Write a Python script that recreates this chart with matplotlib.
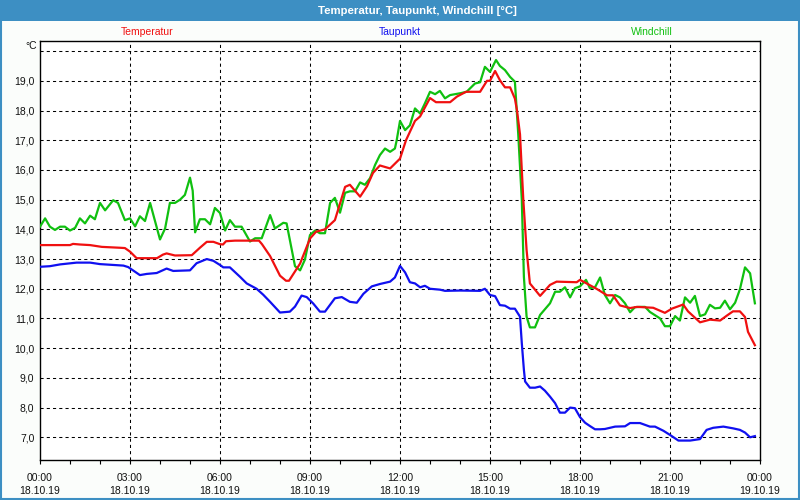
import matplotlib
matplotlib.use("Agg")
import matplotlib.pyplot as plt
from matplotlib.patches import Rectangle
from matplotlib.ticker import FixedLocator, FuncFormatter

# ---- data (hours since 18.10.19 00:00, °C) ----
temp_h = [0.0, 0.5, 1.0, 1.1, 1.33, 1.67, 2.06, 2.67, 2.83, 3.0, 3.22, 3.9, 4.1, 4.22, 4.5,
          5.06, 5.33, 5.56, 5.78, 6.0, 6.1, 6.2, 6.5, 7.3, 7.4, 7.67, 8.0, 8.2, 8.3, 8.67,
          9.0, 9.2, 9.5, 9.83, 10.17, 10.33, 10.67, 10.9, 11.1, 11.33, 11.67, 12.0, 12.2,
          12.5, 12.67, 13.0, 13.2, 13.67, 13.9, 14.2, 14.67, 14.9, 15.0, 15.17, 15.33, 15.5,
          15.67, 15.83, 15.9, 16.0, 16.11, 16.22, 16.33, 16.67, 17.0, 17.22, 17.89, 18.0,
          18.2, 18.55, 18.9, 19.1, 19.33, 19.67, 19.9, 20.44, 20.83, 21.06, 21.44, 21.6,
          22.0, 22.33, 22.67, 22.9, 23.1, 23.33, 23.5, 23.6, 23.83]
temp_v = [13.47, 13.47, 13.47, 13.51, 13.49, 13.47, 13.41, 13.38, 13.37, 13.25, 13.03, 13.03,
          13.15, 13.19, 13.12, 13.13, 13.38, 13.58, 13.58, 13.5, 13.49, 13.6, 13.62, 13.62,
          13.5, 13.1, 12.44, 12.27, 12.27, 12.85, 13.69, 13.92, 14.0, 14.31, 15.43, 15.5,
          15.1, 15.45, 15.9, 16.15, 16.05, 16.38, 17.0, 17.65, 17.8, 18.42, 18.28, 18.28,
          18.47, 18.63, 18.63, 19.0, 19.0, 19.33, 19.02, 18.78, 18.78, 18.4, 18.0, 17.2,
          15.0, 13.3, 12.18, 11.76, 12.13, 12.24, 12.22, 12.3, 12.19, 12.0, 11.78, 11.78,
          11.44, 11.35, 11.39, 11.36, 11.19, 11.33, 11.47, 11.24, 10.87, 10.96, 10.93, 11.1,
          11.24, 11.24, 11.05, 10.55, 10.1]

dew_h = [0.0, 0.33, 0.67, 1.22, 1.67, 2.0, 2.78, 2.94, 3.33, 3.56, 3.89, 4.22, 4.44, 5.0, 5.22,
         5.56, 5.78, 6.0, 6.11, 6.33, 6.67, 6.89, 7.22, 7.44, 7.67, 8.0, 8.33, 8.5, 8.72, 8.89,
         9.11, 9.33, 9.5, 9.83, 10.06, 10.33, 10.56, 10.78, 11.06, 11.33, 11.67, 11.83, 12.0,
         12.17, 12.33, 12.5, 12.67, 12.83, 13.0, 13.33, 13.5, 14.0, 14.67, 14.83, 15.0, 15.17,
         15.33, 15.5, 15.67, 15.83, 16.0, 16.06, 16.13, 16.17, 16.33, 16.5, 16.67, 16.83,
         17.0, 17.17, 17.33, 17.5, 17.67, 17.83, 18.0, 18.17, 18.33, 18.5, 18.67, 18.83,
         19.17, 19.5, 19.67, 20.0, 20.33, 20.5, 20.78, 21.0, 21.28, 21.67, 22.0, 22.22,
         22.44, 22.78, 23.11, 23.33, 23.5, 23.67, 23.83]
dew_v = [12.74, 12.76, 12.82, 12.88, 12.88, 12.83, 12.78, 12.73, 12.46, 12.5, 12.53, 12.68,
         12.6, 12.62, 12.86, 13.0, 12.94, 12.8, 12.72, 12.72, 12.4, 12.18, 12.0, 11.8, 11.56,
         11.2, 11.23, 11.4, 11.77, 11.72, 11.5, 11.23, 11.23, 11.68, 11.72, 11.56, 11.53,
         11.83, 12.08, 12.16, 12.24, 12.38, 12.77, 12.55, 12.22, 12.18, 12.05, 12.1, 12.0,
         11.97, 11.93, 11.94, 11.93, 12.0, 11.79, 11.75, 11.45, 11.43, 11.33, 11.33, 11.06,
         10.17, 9.27, 8.88, 8.67, 8.67, 8.71, 8.57, 8.37, 8.15, 7.83, 7.83, 8.0, 7.98, 7.68,
         7.49, 7.38, 7.27, 7.27, 7.28, 7.36, 7.37, 7.48, 7.48, 7.36, 7.36, 7.22, 7.08, 6.89,
         6.89, 6.94, 7.25, 7.32, 7.36, 7.3, 7.25, 7.16, 7.0, 7.04]

wind_h = [0.0, 0.17, 0.33, 0.5, 0.67, 0.83, 1.0, 1.17, 1.33, 1.5, 1.67, 1.83, 2.0, 2.17, 2.44,
          2.6, 2.83, 3.0, 3.17, 3.33, 3.5, 3.67, 4.0, 4.17, 4.33, 4.5, 4.67, 4.83, 5.0, 5.09,
          5.17, 5.33, 5.5, 5.67, 5.83, 6.0, 6.17, 6.33, 6.5, 6.72, 7.0, 7.17, 7.39, 7.67,
          7.83, 8.11, 8.22, 8.5, 8.67, 8.83, 9.0, 9.17, 9.33, 9.5, 9.67, 9.83, 10.0, 10.17,
          10.33, 10.5, 10.67, 10.83, 11.0, 11.17, 11.33, 11.5, 11.67, 11.83, 11.89, 12.0,
          12.17, 12.33, 12.5, 12.67, 12.83, 13.0, 13.17, 13.33, 13.5, 13.67, 14.0, 14.22,
          14.5, 14.67, 14.83, 15.0, 15.2, 15.33, 15.5, 15.67, 15.83, 15.94, 16.06, 16.13,
          16.22, 16.33, 16.5, 16.67, 17.0, 17.17, 17.33, 17.5, 17.67, 17.83, 18.0, 18.2,
          18.33, 18.5, 18.67, 18.83, 19.0, 19.17, 19.33, 19.5, 19.67, 19.83, 20.0, 20.17,
          20.33, 20.67, 20.83, 21.0, 21.17, 21.33, 21.5, 21.67, 21.83, 22.0, 22.17, 22.33,
          22.5, 22.67, 22.83, 23.0, 23.17, 23.33, 23.5, 23.67, 23.83]
wind_v = [14.09, 14.37, 14.09, 13.98, 14.09, 14.09, 13.96, 14.05, 14.37, 14.2, 14.46, 14.34,
          14.89, 14.64, 14.98, 14.89, 14.31, 14.37, 14.1, 14.44, 14.28, 14.89, 13.66, 14.03,
          14.89, 14.89, 15.0, 15.16, 15.74, 15.3, 13.9, 14.34, 14.34, 14.17, 14.72, 14.55,
          13.96, 14.31, 14.09, 14.09, 13.59, 13.7, 13.7, 14.48, 14.03, 14.22, 14.2, 12.76,
          12.62, 12.98, 13.81, 13.96, 13.87, 13.87, 14.89, 15.06, 14.56, 15.23, 15.28, 15.28,
          15.58, 15.5, 15.72, 16.17, 16.5, 16.72, 16.61, 16.72, 17.0, 17.65, 17.34, 17.5,
          18.07, 17.9, 18.24, 18.63, 18.55, 18.66, 18.41, 18.52, 18.58, 18.63, 18.91, 18.95,
          19.47, 19.3, 19.7, 19.5, 19.36, 19.13, 18.97, 17.23, 14.99, 12.4, 11.06, 10.7,
          10.7, 11.12, 11.51, 11.9, 11.9, 12.05, 11.71, 12.02, 12.08, 12.3, 12.02, 12.05,
          12.38, 11.79, 11.51, 11.79, 11.71, 11.51, 11.21, 11.38, 11.39, 11.39, 11.22, 11.0,
          10.74, 10.74, 11.08, 10.93, 11.71, 11.53, 11.76, 11.08, 11.14, 11.46, 11.34, 11.36,
          11.6, 11.31, 11.53, 11.98, 12.72, 12.52, 11.51]

series_names = ["Temperatur", "Taupunkt", "Windchill"]
series_colors = ["#f01010", "#1010f0", "#10c010"]
title = "Temperatur, Taupunkt, Windchill [°C]"
unit_label = "°C"
x_major = [0, 3, 6, 9, 12, 15, 18, 21, 24]
x_time_labels = ["00:00", "03:00", "06:00", "09:00", "12:00", "15:00", "18:00", "21:00", "00:00"]
x_date_labels = ["18.10.19"] * 8 + ["19.10.19"]
y_ticks = [7, 8, 9, 10, 11, 12, 13, 14, 15, 16, 17, 18, 19]
y_grid = y_ticks + [20]

# ---- figure ----
FONT = ["Liberation Sans", "DejaVu Sans"]
plt.rcParams["font.family"] = FONT
W, H = 800, 500
fig = plt.figure(figsize=(8, 5), dpi=100, facecolor="#fbfdfb")
ax = fig.add_axes([40 / W, (H - 460.3) / H, 720 / W, 419.6 / H])
ax.set_facecolor("white")

frame_blue = "#3d8fc3"
fig.patches.append(Rectangle((0, (H - 21) / H), 1, 21 / H, transform=fig.transFigure,
                             facecolor=frame_blue, edgecolor="none", zorder=0))
fig.patches.append(Rectangle((1 / W, 1 / H), 1 - 2 / W, 1 - 2 / H, transform=fig.transFigure,
                             facecolor="none", edgecolor=frame_blue, linewidth=1.5, zorder=5))
fig.text(417 / W, 1 - 10.5 / H, title, color="white", fontsize=8.2, fontweight="bold",
         ha="center", va="center")

# legend labels
for name, col, xc in zip(series_names, series_colors, [147, 400, 652]):
    fig.text(xc / W, 1 - 32 / H, name, color=col, fontsize=7.5, ha="center", va="center")

ax.plot(temp_h, temp_v, color=series_colors[0], lw=1.6, zorder=4)
ax.plot(wind_h, wind_v, color=series_colors[2], lw=1.6, zorder=3)
ax.plot(dew_h, dew_v, color=series_colors[1], lw=1.6, zorder=4)

ax.set_xlim(0, 24)
ax.set_ylim(6.226, 20.35)

# grid
for y in y_grid:
    ax.axhline(y, color="black", lw=0.75, ls=(0, (3, 3)), zorder=1)
for x in x_major[1:-1]:
    ax.axvline(x, color="black", lw=0.75, ls=(0, (3, 3)), zorder=1)

ax.xaxis.set_major_locator(FixedLocator(x_major))
ax.xaxis.set_minor_locator(FixedLocator([h for h in range(25) if h % 3]))
ax.set_xticklabels([f"{t}\n{d}" for t, d in zip(x_time_labels, x_date_labels)],
                   fontsize=7.5, color="#111111", linespacing=1.45)
ax.tick_params(axis="x", which="both", direction="out", length=3, width=0.8, pad=6)
ax.yaxis.set_major_locator(FixedLocator(y_ticks))
ax.yaxis.set_major_formatter(FuncFormatter(lambda v, p: f"{v:.1f}".replace(".", ",")))
ax.tick_params(axis="y", length=0, pad=4, labelsize=7.5, labelcolor="#111111")
for s in ax.spines.values():
    s.set_color("black")
    s.set_linewidth(1.0)

fig.text(37 / W, 1 - 46 / H, unit_label, fontsize=7.5, color="#111111", ha="right", va="center")

fig.savefig("out.png", dpi=100, facecolor=fig.get_facecolor())
